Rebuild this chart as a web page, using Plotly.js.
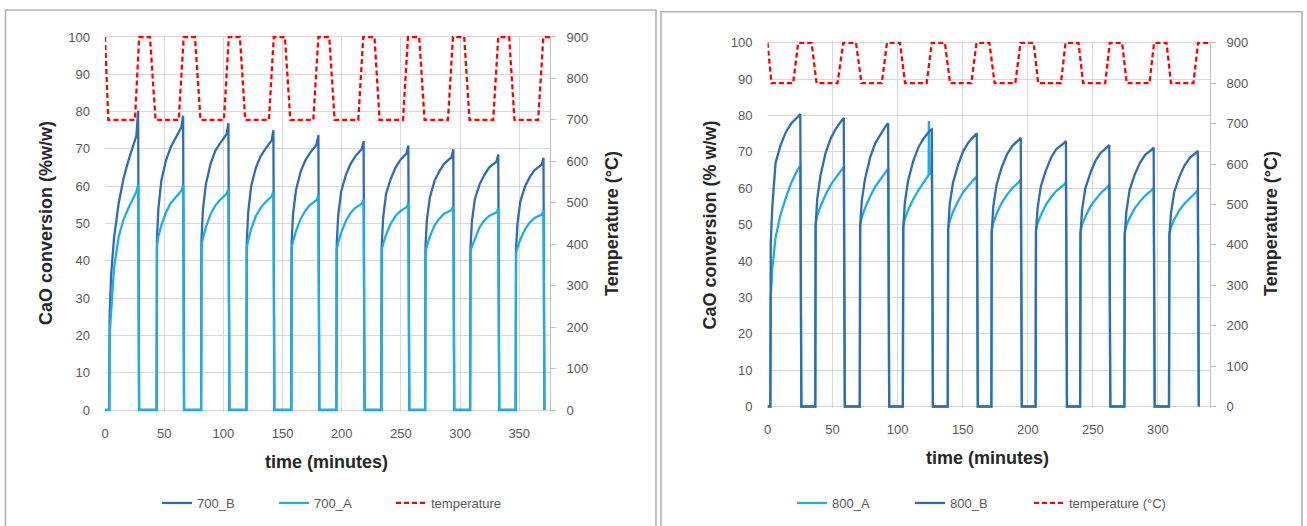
<!DOCTYPE html>
<html>
<head>
<meta charset="utf-8">
<script src="https://cdn.plot.ly/plotly-3.0.1.min.js"></script>
<style>html,body{margin:0;padding:0;background:#fff;}#chart{width:1307px;height:526px;}</style>
</head>
<body>
<div id="chart"></div>
<script>
// ---------- Left chart (700 °C) ----------
const time700 = [0,
3.6,3.9,5.1,7.6,11.6,15.6,19.6,26.5,28,28.8,
43.6,43.9,45.1,47.6,51.6,55.6,59.6,64.5,66,66.8,
81.2,81.5,82.7,85.2,89.2,93.2,97.2,102.8,104.3,105.1,
119.5,119.8,121,123.5,127.5,131.5,135.5,140.8,142.3,143.1,
157.4,157.7,158.9,161.4,165.4,169.4,173.4,178.8,180.3,181.1,
195.5,195.8,197,199.5,203.5,207.5,211.5,217,218.5,219.3,
233.5,233.8,235,237.5,241.5,245.5,249.5,254.8,256.3,257.1,
270.5,270.8,272,274.5,278.5,282.5,286.5,292.8,294.3,295.1,
308.5,308.8,310,312.5,316.5,320.5,324.5,330.8,332.3,333.1,
347,347.3,348.5,351,355,359,363,369,370.5,371.3];

const conv700B = [0,
0,25,36,46,55.5,62,66.7,73.5,80.2,0,
0,46,54,61.5,67,70.5,73,75.8,78.9,0,
0,45.5,53.5,60.5,66,69.5,71.5,74,76.9,0,
0,45,53,60,65,68,70,72.3,75.0,0,
0,45,52.5,59,64,67,69,71.2,73.7,0,
0,44.5,52,58.5,63,66,68,70,72.1,0,
0,44,51.5,58,62,65,67,68.8,70.9,0,
0,44,51,57,61.5,64,66,67.8,69.9,0,
0,43.5,50.5,56.5,60.5,63,65,66.6,68.5,0,
0,43,50,56,60,62.5,64.3,65.8,67.6,0];

const conv700A = [0,
0,20,27,38,46.5,51,54,58.5,60.4,0,
0,44,46.5,49.5,53,55.5,57,58.8,60.4,0,
0,44,46,49,52.5,54.8,56.3,58,59.3,0,
0,43.5,45.5,48.5,52,54.2,55.7,57.3,58.6,0,
0,43.5,45.2,48,51.3,53.5,55,56.3,57.5,0,
0,43,44.8,47.5,50.7,52.8,54.2,55.3,56.4,0,
0,43,44.5,47,50,52,53.3,54.4,55.5,0,
0,42.5,44,46.5,49.5,51.3,52.6,53.6,54.6,0,
0,42.5,43.8,46,49,50.8,52,53,54.0,0,
0,42,43.5,45.8,48.5,50.3,51.5,52.4,53.4,0];

const tempTime700 = [0,2.8,25.3,28.9,38,42.7,
62.3,66.5,76,80.7,
100.5,104.6,114,118.5,
138.5,142.6,152,156.6,
176,180.3,189.5,194,
214,218.2,227.7,232,
251.8,256,265.5,270,
289.8,294,303.5,308,
328,332.3,341.5,346,
366,370.4,376];
const temp700 = [900,700,700,900,900,700,
700,900,900,700,
700,900,900,700,
700,900,900,700,
700,900,900,700,
700,900,900,700,
700,900,900,700,
700,900,900,700,
700,900,900,700,
700,900,900];

// ---------- Right chart (800 °C) ----------
const time800 = [0,
2.2,2.5,3.7,6.2,10.2,14.2,18.2,23.7,25.2,26,
36.7,37,38.2,40.7,44.7,48.7,52.7,57.1,58.6,59.4,
70.9,71.2,72.4,74.9,78.9,82.9,86.9,91.2,92.7,93.5,
104,104.3,105.5,108,112,116,120,123.8,124,124.3,124.8,126.3,127.1,
138.5,138.8,140,142.5,146.5,150.5,154.5,159.3,160.8,161.6,
172,172.3,173.5,176,180,184,188,193.1,194.6,195.4,
206,206.3,207.5,210,214,218,222,227.8,229.3,230.1,
240.2,240.5,241.7,244.2,248.2,252.2,256.2,261.1,262.6,263.4,
274.2,274.5,275.7,278.2,282.2,286.2,290.2,295.2,296.7,297.5,
308.5,308.8,310,312.5,316.5,320.5,324.5,329.1,330.6,331.4];

const conv800A = [0,
0,30,38,46.5,53,57.5,61.5,65.5,66.1,0,
0,50,52.5,55,58.3,61,63,65.2,65.9,0,
0,50,52,54.5,57.8,60.5,62.5,64.7,65.4,0,
0,49.5,51.5,54,57,59.5,61.5,63.6,78.5,64,64,64.3,0,
0,49,51,53.5,56.5,59,60.8,62.6,63.3,0,
0,48.5,50.5,53,56,58.2,60,61.7,62.4,0,
0,48.5,50.3,52.6,55.5,57.6,59.3,61,61.7,0,
0,48,50,52.2,55,57,58.7,60.3,61.0,0,
0,48,49.7,51.8,54.5,56.4,58,59.5,60.1,0,
0,47.5,49.3,51.4,54,55.8,57.3,58.8,59.4,0];

const conv800B = [0,
0,45,55,67,72,75.5,77.8,79.8,80.4,0,
0,50,57,63.5,69.8,73.8,76.5,78.7,79.3,0,
0,49.5,56.5,62.5,68.5,72.5,75,77.3,77.9,0,
0,49,56,62,67.5,71.3,73.7,75.5,75.6,75.7,75.9,76.2,0,
0,48.5,55.5,61.5,66.5,70.3,72.7,74.5,75.1,0,
0,48,55,61,65.8,69.3,71.6,73.3,73.9,0,
0,48,54.5,60.5,65,68.5,70.8,72.4,73.0,0,
0,47.5,54,60,64.3,67.7,69.8,71.3,71.9,0,
0,47,53.5,59.5,63.8,67,69.2,70.6,71.2,0,
0,47,53,59,63.2,66.3,68.4,69.7,70.3,0];

const tempTime800 = [0,3.1,19.7,23.6,33.9,37.7,
53.8,58.2,68,72.2,
87.8,91.8,101.8,105.7,
122.3,126.2,136.3,140.3,
156.6,160.6,170.5,174.5,
190.4,194.4,204.5,208,
225.5,229,239,242.5,
259.5,263,272.5,276,
293.5,297,306.6,310,
327.3,330.8,340.5];
const temp800 = [900,800,800,900,900,800,
800,900,900,800,
800,900,900,800,
800,900,900,800,
800,900,900,800,
800,900,900,800,
800,900,900,800,
800,900,900,800,
800,900,900,800,
800,900,900];

const xTicks700 = [0,50,100,150,200,250,300,350];
const xTicks800 = [0,50,100,150,200,250,300];
const names700 = ['700_B','700_A','temperature'];
const names800 = ['800_A','800_B','temperature (°C)'];
const titles = {
  x: 'time (minutes)',
  y700: 'CaO conversion (%w/w)',
  y800: 'CaO conversion (% w/w)',
  temp: 'Temperature (°C)'
};

// ---------- styling ----------
const W = 1307, H = 526;
const FONT = 'Liberation Sans, Arial, sans-serif';
const DARK = '#2E6DB4', LIGHT = '#1CADEB', RED = '#FF0000';
const px = v => v / W, py = v => 1 - v / H;

const traces = [
  {x: time700, y: conv700B, name: names700[0], xaxis: 'x', yaxis: 'y', mode: 'lines',
   line: {color: DARK, width: 2.3}, legend: 'legend'},
  {x: time700, y: conv700A, name: names700[1], xaxis: 'x', yaxis: 'y', mode: 'lines',
   line: {color: LIGHT, width: 2.3}, legend: 'legend'},
  {x: tempTime700, y: temp700, name: names700[2], xaxis: 'x', yaxis: 'y2', mode: 'lines',
   line: {color: RED, width: 2.3, dash: '5px,3px'}, legend: 'legend'},
  {x: time800, y: conv800A, name: names800[0], xaxis: 'x2', yaxis: 'y3', mode: 'lines',
   line: {color: LIGHT, width: 2.3}, legend: 'legend2'},
  {x: time800, y: conv800B, name: names800[1], xaxis: 'x2', yaxis: 'y3', mode: 'lines',
   line: {color: DARK, width: 2.3}, legend: 'legend2'},
  {x: tempTime800, y: temp800, name: names800[2], xaxis: 'x2', yaxis: 'y4', mode: 'lines',
   line: {color: RED, width: 2.3, dash: '5px,3px'}, legend: 'legend3'}
];

const tickFont = {family: FONT, size: 13, color: '#595959'};
const gridC = '#d9d9d9', lineC = '#bfbfbf';
function xAxis(domain, range, ticks, anchor) {
  return {domain, range, tickvals: ticks, ticktext: ticks.map(String), anchor,
    showgrid: true, gridcolor: gridC, gridwidth: 1, zeroline: false, showline: false,
    ticks: '', ticklabelstandoff: 12, tickfont: tickFont, fixedrange: true};
}
function yLeft(domain, anchor) {
  return {domain, range: [-0.4, 100.4], tickvals: [0,10,20,30,40,50,60,70,80,90,100], anchor,
    showgrid: true, gridcolor: gridC, gridwidth: 1, zeroline: false, showline: false,
    ticks: '', ticklabelstandoff: 14, tickfont: tickFont, fixedrange: true};
}
function yRight(overlay, anchor) {
  return {overlaying: overlay, side: 'right', anchor, range: [-3.6, 903.6],
    tickvals: [0,100,200,300,400,500,600,700,800,900], showgrid: false, zeroline: false,
    showline: true, linecolor: lineC, linewidth: 1, ticks: 'outside', ticklen: 5,
    tickcolor: lineC, ticklabelstandoff: 8, tickfont: tickFont, fixedrange: true};
}

function ann(text, x, y, angle) {
  return {text: '<b>' + text + '</b>', x: px(x), y: py(y), xref: 'paper', yref: 'paper',
    xanchor: 'center', yanchor: 'middle', showarrow: false, textangle: angle,
    font: {family: FONT, size: 18, color: '#262626'}};
}

const legendFont = {family: FONT, size: 13, color: '#595959'};
function legendAt(x, width) {
  const l = {orientation: 'h', x: px(x), y: py(503), xanchor: 'left', yanchor: 'middle',
    font: legendFont, bgcolor: 'rgba(0,0,0,0)', traceorder: 'normal'};
  if (width) { l.entrywidth = width; l.entrywidthmode = 'pixels'; }
  return l;
}
const layout = {
  width: W, height: H, margin: {l: 0, r: 0, t: 0, b: 0},
  paper_bgcolor: '#ffffff', plot_bgcolor: 'rgba(0,0,0,0)',
  font: {family: FONT, size: 13, color: '#595959'},
  showlegend: true,
  xaxis: xAxis([px(105), px(550)], [0, 376], xTicks700, 'y'),
  yaxis: yLeft([py(411.5), py(35.5)], 'x'),
  yaxis2: yRight('y', 'x'),
  xaxis2: xAxis([px(767.5), px(1210)], [0, 340], xTicks800, 'y3'),
  yaxis3: yLeft([py(407.95), py(41.35)], 'x2'),
  yaxis4: yRight('y3', 'x2'),
  legend: legendAt(157, 72),
  legend2: legendAt(792, 73),
  legend3: legendAt(1029, 0),
  annotations: [
    ann(titles.y700, 46, 223, -90),
    ann(titles.temp, 612, 224, -90),
    ann(titles.x, 326, 462, 0),
    ann(titles.y800, 709.5, 225, -90),
    ann(titles.temp, 1271, 224, -90),
    ann(titles.x, 987, 458, 0)
  ],
  shapes: [
    {type: 'rect', xref: 'paper', yref: 'paper', x0: px(5.5), x1: px(656), y0: -0.05, y1: py(10),
     line: {color: '#b3b3b3', width: 1.6}, layer: 'below'},
    {type: 'rect', xref: 'paper', yref: 'paper', x0: px(661), x1: px(1302), y0: -0.05, y1: py(11.7),
     line: {color: '#b3b3b3', width: 1.6}, layer: 'below'}
  ]
};

Plotly.newPlot('chart', traces, layout, {displayModeBar: false, staticPlot: true});
</script>
</body>
</html>
